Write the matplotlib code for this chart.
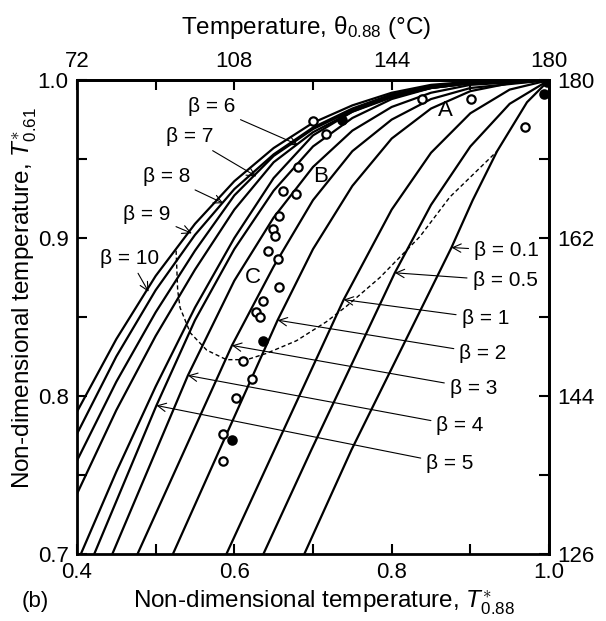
import matplotlib
matplotlib.use("Agg")
import matplotlib.pyplot as plt

plt.rcParams['font.family'] = ['Liberation Sans', 'DejaVu Sans']
plt.rcParams['mathtext.fontset'] = 'custom'
plt.rcParams['mathtext.rm'] = 'Liberation Sans'
plt.rcParams['mathtext.it'] = 'Liberation Sans:italic'

# curves (x = T*0.88, y = T*0.61)
b10_x = [0.40, 0.45, 0.50, 0.55, 0.60, 0.65, 0.70, 0.75, 0.80, 0.85, 0.90, 1.00]
b10_y = [0.790, 0.836, 0.876, 0.909, 0.936, 0.957, 0.973, 0.984, 0.992, 0.997, 0.999, 1.0]
b9_x = [0.40, 0.45, 0.50, 0.55, 0.60, 0.65, 0.70, 0.75, 0.80, 0.85, 0.90, 1.00]
b9_y = [0.776, 0.825, 0.867, 0.902, 0.931, 0.953, 0.970, 0.982, 0.991, 0.996, 0.999, 1.0]
b8_x = [0.40, 0.45, 0.50, 0.55, 0.60, 0.65, 0.70, 0.75, 0.80, 0.85, 0.90, 1.00]
b8_y = [0.759, 0.809, 0.853, 0.892, 0.927, 0.952, 0.969, 0.981, 0.990, 0.996, 0.999, 1.0]
b7_x = [0.40, 0.45, 0.50, 0.55, 0.60, 0.65, 0.70, 0.75, 0.80, 0.85, 0.90, 1.00]
b7_y = [0.738, 0.791, 0.838, 0.880, 0.918, 0.948, 0.967, 0.980, 0.989, 0.995, 0.998, 1.0]
b6_x = [0.405, 0.45, 0.50, 0.55, 0.60, 0.65, 0.70, 0.75, 0.80, 0.85, 0.90, 1.00]
b6_y = [0.700, 0.752, 0.806, 0.856, 0.900, 0.938, 0.965, 0.980, 0.990, 0.995, 0.998, 1.0]
b5_x = [0.422, 0.501, 0.55, 0.60, 0.65, 0.70, 0.75, 0.80, 0.85, 0.90, 1.00]
b5_y = [0.700, 0.794, 0.848, 0.893, 0.930, 0.958, 0.976, 0.988, 0.995, 0.998, 1.0]
b4_x = [0.445, 0.541, 0.60, 0.65, 0.70, 0.75, 0.80, 0.85, 0.90, 1.00]
b4_y = [0.700, 0.813, 0.873, 0.913, 0.945, 0.968, 0.983, 0.992, 0.997, 1.0]
b3_x = [0.477, 0.597, 0.65, 0.70, 0.75, 0.80, 0.85, 0.90, 1.00]
b3_y = [0.700, 0.832, 0.882, 0.924, 0.955, 0.975, 0.988, 0.995, 1.0]
b2_x = [0.522, 0.655, 0.70, 0.75, 0.80, 0.85, 0.90, 0.95, 1.00]
b2_y = [0.700, 0.848, 0.893, 0.933, 0.963, 0.982, 0.993, 0.998, 1.0]
b1_x = [0.590, 0.739, 0.80, 0.85, 0.90, 0.95, 1.00]
b1_y = [0.700, 0.861, 0.918, 0.954, 0.979, 0.994, 1.0]
b05_x = [0.637, 0.698, 0.804, 0.85, 0.90, 0.95, 1.00]
b05_y = [0.700, 0.766, 0.878, 0.921, 0.958, 0.985, 1.0]
b01_x = [0.689, 0.749, 0.876, 0.903, 0.934, 0.972, 1.00]
b01_y = [0.700, 0.766, 0.894, 0.924, 0.955, 0.986, 1.0]

# dashed locus
dash_x = [0.526, 0.528, 0.531, 0.544, 0.565, 0.590, 0.616, 0.641, 0.679, 0.717, 0.743, 0.785, 0.836, 0.874, 0.934]
dash_y = [0.892, 0.867, 0.856, 0.840, 0.829, 0.823, 0.823, 0.827, 0.835, 0.847, 0.857, 0.875, 0.901, 0.926, 0.955]

# measured points
open_x = [0.700, 0.716, 0.681, 0.662, 0.678, 0.657, 0.649, 0.652, 0.643, 0.655, 0.657, 0.636,
          0.627, 0.633, 0.611, 0.623, 0.602, 0.586, 0.585, 0.839, 0.901, 0.969]
open_y = [0.974, 0.966, 0.945, 0.930, 0.928, 0.914, 0.906, 0.901, 0.892, 0.887, 0.869, 0.860,
          0.853, 0.850, 0.822, 0.811, 0.799, 0.776, 0.759, 0.988, 0.988, 0.970]
filled_x = [0.737, 0.636, 0.597, 0.993, 0.998]
filled_y = [0.975, 0.835, 0.772, 0.991, 0.999]

# labels: text, text position, arrow tip
beta_labels = ['β = 6', 'β = 7', 'β = 8', 'β = 9', 'β = 10',
               'β = 0.1', 'β = 0.5', 'β = 1', 'β = 2', 'β = 3', 'β = 4', 'β = 5']
label_x = [0.571, 0.543, 0.514, 0.489, 0.467, 0.946, 0.944, 0.919, 0.916, 0.904, 0.887, 0.874]
label_y = [0.983, 0.964, 0.939, 0.915, 0.887, 0.892, 0.873, 0.849, 0.827, 0.805, 0.781, 0.757]
tip_x = [0.681, 0.628, 0.586, 0.546, 0.491, 0.876, 0.804, 0.739, 0.655, 0.597, 0.541, 0.501]
tip_y = [0.959, 0.939, 0.922, 0.903, 0.866, 0.894, 0.878, 0.861, 0.848, 0.832, 0.813, 0.794]

fig = plt.figure(figsize=(6.06, 6.21), dpi=100)
ax = fig.add_axes([0.127, 0.108, 0.779, 0.763])

curves = [(b10_x, b10_y), (b9_x, b9_y), (b8_x, b8_y), (b7_x, b7_y), (b6_x, b6_y),
          (b5_x, b5_y), (b4_x, b4_y), (b3_x, b3_y), (b2_x, b2_y), (b1_x, b1_y),
          (b05_x, b05_y), (b01_x, b01_y)]
for cx, cy in curves:
    ax.plot(cx, cy, color='black', lw=1.6, solid_capstyle='round')

ax.plot(dash_x, dash_y, color='black', lw=1.0, ls=(0, (3, 2)))
ax.plot(open_x, open_y, 'o', mfc='white', mec='black', ms=6, mew=1.6, zorder=5)
ax.plot(filled_x, filled_y, 'o', mfc='black', mec='black', ms=6, mew=1.6, zorder=5)

for txt, lx, ly, tx, ty in zip(beta_labels, label_x, label_y, tip_x, tip_y):
    ax.annotate(txt, xy=(tx, ty), xytext=(lx, ly), fontsize=15, ha='center', va='center',
                arrowprops=dict(arrowstyle='->', lw=0.8, color='black', shrinkA=2, shrinkB=0))

ax.text(0.868, 0.981, 'A', fontsize=16, ha='center', va='center')
ax.text(0.709, 0.939, 'B', fontsize=16, ha='center', va='center')
ax.text(0.624, 0.875, 'C', fontsize=16, ha='center', va='center')

ax.set_xlim(0.4, 1.0)
ax.set_ylim(0.7, 1.0)
ax.set_xticks([0.4, 0.6, 0.8, 1.0])
ax.set_xticks([0.5, 0.7, 0.9], minor=True)
ax.set_yticks([0.7, 0.8, 0.9, 1.0])
ax.set_yticks([0.75, 0.85, 0.95], minor=True)
ax.set_xticklabels(['0.4', '0.6', '0.8', '1.0'])
ax.set_yticklabels(['0.7', '0.8', '0.9', '1.0'])
ax.tick_params(which='both', direction='in', length=7, width=1.5, labelsize=16,
               top=False, right=False, pad=6)
for s in ax.spines.values():
    s.set_linewidth(2.0)

top = ax.secondary_xaxis('top', functions=(lambda v: v * 180, lambda t: t / 180))
top.set_xticks([72, 108, 144, 180])
top.set_xticks([90, 126, 162], minor=True)
top.tick_params(which='both', direction='in', length=7, width=1.5, labelsize=16, pad=6)
top.spines['top'].set_linewidth(2.0)

right = ax.secondary_yaxis('right', functions=(lambda v: v * 180, lambda t: t / 180))
right.set_yticks([126, 144, 162, 180])
right.set_yticks([135, 153, 171], minor=True)
right.tick_params(which='both', direction='in', length=7, width=1.5, labelsize=16, pad=6)
right.spines['right'].set_linewidth(2.0)

fig.text(0.505, 0.955, r'Temperature, θ$_{0.88}$ (°C)', fontsize=17.5, ha='center', va='center')
fig.text(0.535, 0.030, r'Non-dimensional temperature, $T^{\ast}_{0.88}$', fontsize=17.5,
         ha='center', va='center')
fig.text(0.040, 0.52, r'Non-dimensional temperature, $T^{\ast}_{0.61}$', fontsize=17.5,
         ha='center', va='center', rotation=90)
fig.text(0.058, 0.032, '(b)', fontsize=16, ha='center', va='center')

fig.savefig('out.png', dpi=100)
